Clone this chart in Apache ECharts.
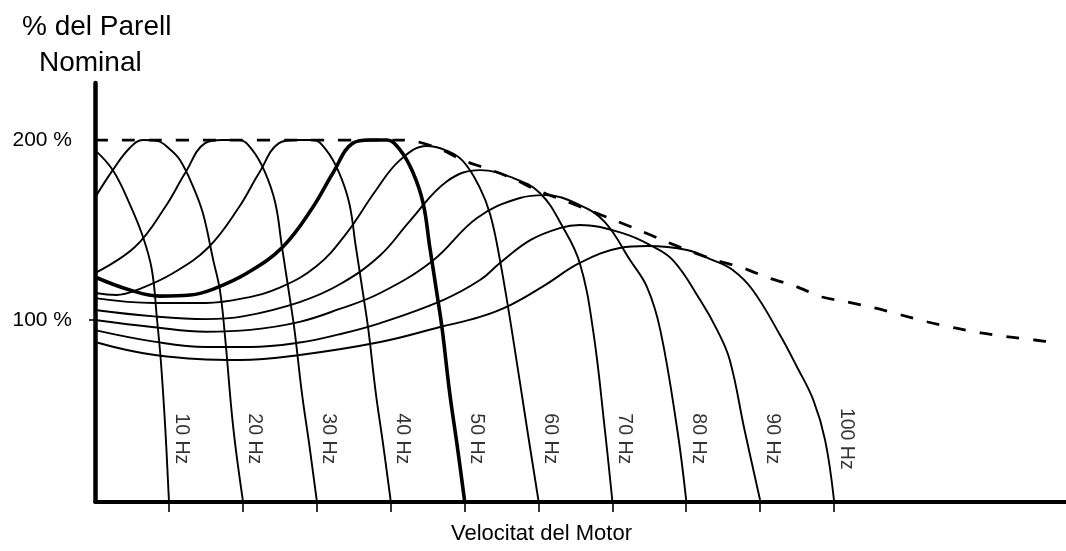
<!DOCTYPE html>
<html>
<head>
<meta charset="utf-8">
<script src="https://cdn.jsdelivr.net/npm/echarts@6/dist/echarts.min.js"></script>
<style>
  html, body { margin: 0; padding: 0; background: #fff; }
  #chart { width: 1066px; height: 551px; }
</style>
</head>
<body>
<div id="chart"></div>
<script>
// Torque (% of rated) against motor speed (Hz), one curve per supply frequency.
const freqs = [10, 20, 30, 40, 50, 60, 70, 80, 90, 100];
const freqLabels = ['10 Hz', '20 Hz', '30 Hz', '40 Hz', '50 Hz', '60 Hz', '70 Hz', '80 Hz', '90 Hz', '100 Hz'];
const yTickValues = [100, 200];

const hz10 = [[0,194.4],[2.4,183.3],[4.7,164.4],[6.5,146.1],[7.7,127.8],[8.4,100],[8.9,77.8],[9.5,40.6],[10,0]];
const hz20 = [[0,168],[2.4,183.3],[4.7,195.6],[6.5,200],[8.5,199.4],[10.1,195],[11.5,188.9],[13.3,173.9],[14.6,159.4],[16,133.3],[16.9,116.7],[17.6,90.6],[18.7,40.6],[20,0]];
const hz30 = [[0,126.1],[5.4,140.6],[9.5,162.8],[12.2,181.7],[14.9,198.3],[17.2,200],[19.5,200],[21.3,194.4],[23,182.2],[24.4,165],[25.3,140.6],[26.3,113.9],[27,94.4],[28,59.4],[29,30.6],[30,0]];
const hz40 = [[0,115],[2.9,113.9],[6,117.2],[10.6,126.1],[15.4,140.6],[19.5,162.8],[22.2,181.7],[24.9,198.3],[27.2,200],[29.5,200],[31.3,194.4],[33,182.2],[34.4,165],[35.3,140.6],[36.3,113.9],[37,94.4],[38,59.4],[39,30.6],[40,0]];
const hz50 = [[0,123.9],[4.7,116.7],[8.8,113.3],[12.9,113.9],[16,117.2],[20.6,126.1],[25.4,140.6],[29.5,162.8],[32.2,181.7],[34.9,198.3],[37.2,200],[39.5,200],[41.3,194.4],[43,182.2],[44.4,165],[45.3,140.6],[46.3,113.9],[47,94.4],[48,59.4],[49,30.6],[50,0]];
const hz60 = [[0,112.2],[8,109.5],[15,109.5],[20,112],[25,118],[30,130],[34,148],[38,172],[41.3,189],[44.9,196.7],[47.4,194.4],[49.8,188.3],[52.1,173.3],[53.5,158.3],[54.8,133.3],[56.4,94.4],[58.5,38.9],[60,0]];
const hz70 = [[0,105.6],[8,102],[15,100.5],[20,102],[27.7,110],[33.2,120],[38.6,136],[42.6,155],[47.6,177],[52.1,183.3],[56.6,178.9],[60.2,170.6],[63.3,151.7],[65.6,131.7],[67.4,94.4],[69,38.9],[70,0]];
const hz80 = [[0,100],[8,96],[15,93.5],[21,94.5],[27.7,99],[33,106],[38.6,115],[45.7,133],[51.7,156.7],[57.5,167.8],[60.9,169.4],[65.6,163.9],[69,154.4],[72.4,133.3],[74.7,118.3],[76.5,94.4],[78.8,38.9],[80,0]];
const hz90 = [[0,94.4],[8,88],[15,85],[21,85],[27.7,87.5],[33,92],[38.6,98.3],[47.1,111.1],[52.1,122.2],[54.8,131.7],[58.9,144.4],[62.9,151.1],[65.6,152.8],[71.4,148.3],[75.1,141.7],[78.2,133.3],[81.9,111.1],[84.2,94.4],[85.9,77.8],[87.9,38.9],[90,0]];
const hz100 = [[0,87.8],[8.1,80.6],[19.6,77.8],[27.7,80.6],[38.6,87.8],[46.7,96.1],[52.1,101.7],[56.2,108.3],[60.9,119.4],[65.6,131.7],[71,140],[74.7,141.1],[80.1,138.9],[83.6,133.3],[86.3,127.8],[89,116.7],[92.7,91.7],[95,73.9],[97.2,55.6],[98.8,33.3],[100,0]];

// Maximum available torque (dashed envelope)
const envelope = [[0,200],[41.3,200],[43.3,199.4],[46.7,195],[49.7,188.9],[52.8,184.4],[56.4,178.9],[59.8,172.2],[63.3,166.7],[66.8,161.1],[70.2,155.6],[73.6,150],[77.1,143.9],[80.5,138.3],[84,133.3],[87.7,128.9],[91.2,123.3],[94.7,118.9],[98.4,112.8],[101.9,110],[105.5,106.7],[109.1,102.8],[112.7,98.9],[116.4,95.6],[119.9,92.8],[123.6,90.6],[127.2,88.9],[130.3,87.2]];

const curves = [hz10, hz20, hz30, hz40, hz50, hz60, hz70, hz80, hz90, hz100];
const FONT = "'Liberation Sans', Arial, sans-serif";

const chart = echarts.init(document.getElementById('chart'), null, { renderer: 'canvas' });

const series = curves.map((data, i) => ({
  type: 'line',
  data: data,
  smooth: 0.4,
  showSymbol: false,
  silent: true,
  lineStyle: { color: '#000', width: freqs[i] === 50 ? 3.6 : 1.9 },
  z: freqs[i] === 50 ? 4 : 3
}));

series.push({
  type: 'line',
  data: envelope,
  smooth: 0.3,
  showSymbol: false,
  silent: true,
  lineStyle: { color: '#000', width: 2.8, type: [13, 14] },
  z: 2
});

// Frequency tags beside each curve's zero-torque point
series.push({
  type: 'scatter',
  data: freqs.map(f => [f, 34]),
  symbolSize: 0,
  silent: true,
  label: {
    show: true,
    formatter: p => freqLabels[p.dataIndex],
    rotate: -90,
    position: 'inside',
    offset: [0, -12],
    color: '#000',
    fontFamily: FONT,
    fontSize: 19.5
  },
  z: 5
});

chart.setOption({
  animation: false,
  backgroundColor: '#fff',
  grid: { left: 95, right: 0, top: 83, bottom: 51 },
  xAxis: {
    type: 'value',
    min: 0,
    max: 131.4,
    offset: 2,
    axisLine: { show: true, onZero: false, lineStyle: { color: '#000', width: 4 } },
    axisTick: { show: true, customValues: freqs, length: 10, lineStyle: { color: '#000', width: 1.6 } },
    axisLabel: { show: false },
    splitLine: { show: false }
  },
  yAxis: {
    type: 'value',
    min: 0,
    max: 231.7,
    axisLine: { show: true, onZero: false, lineStyle: { color: '#000', width: 4.5 } },
    axisTick: { show: true, customValues: [100], length: 6, lineStyle: { color: '#000', width: 1.6 } },
    axisLabel: {
      show: true,
      customValues: yTickValues,
      formatter: v => v + ' %',
      margin: 23,
      color: '#000',
      fontFamily: FONT,
      fontSize: 21
    },
    splitLine: { show: false }
  },
  graphic: [
    { type: 'text', left: 22, top: 13, style: { text: '% del Parell', font: '28px ' + FONT, fill: '#000' } },
    { type: 'text', left: 39, top: 49, style: { text: 'Nominal', font: '28px ' + FONT, fill: '#000' } },
    { type: 'text', left: 451, top: 523, style: { text: 'Velocitat del Motor', font: '22px ' + FONT, fill: '#000' } }
  ],
  series: series
});
</script>
</body>
</html>
